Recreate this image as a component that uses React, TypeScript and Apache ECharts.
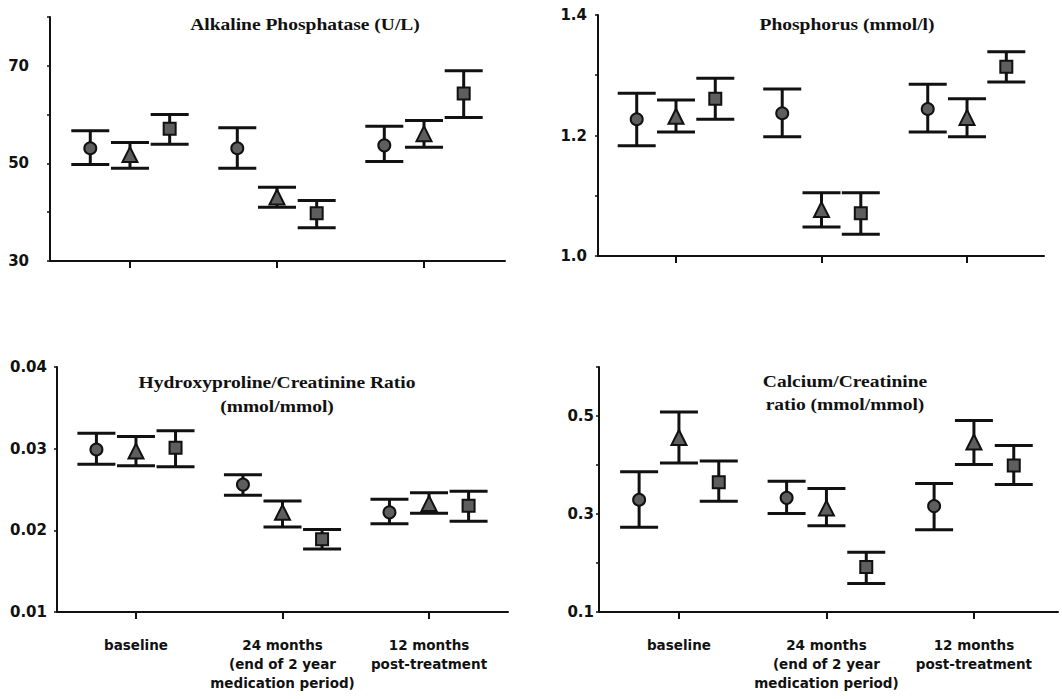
import React, { useEffect, useRef } from "react";
import * as echarts from "echarts";

// Time points (x categories)
const timepoints = [
  "baseline",
  "24 months\n(end of 2 year\nmedication period)",
  "12 months\npost-treatment",
];

// Groups: circle, triangle, square markers
const groupSymbols = ["circle", "triangle", "rect"];
const groupSymbolSizes = [12, 15, 12];
const groupOffsets = [-0.27, 0, 0.27];

// Alkaline Phosphatase (U/L): rows = time point, cols = group
const alpMean = [
  [53.1, 51.8, 57.1],
  [53.1, 43.1, 39.8],
  [53.7, 56.1, 64.3],
];
const alpLow = [
  [49.8, 49.0, 53.9],
  [49.0, 41.0, 36.8],
  [50.4, 53.3, 59.4],
];
const alpHigh = [
  [56.7, 54.3, 60.0],
  [57.3, 45.1, 42.4],
  [57.6, 58.8, 69.0],
];

// Phosphorus (mmol/l)
const phosMean = [
  [1.227, 1.232, 1.261],
  [1.237, 1.077, 1.071],
  [1.244, 1.23, 1.314],
];
const phosLow = [
  [1.183, 1.206, 1.227],
  [1.198, 1.048, 1.036],
  [1.206, 1.198, 1.289],
];
const phosHigh = [
  [1.27, 1.259, 1.295],
  [1.277, 1.105, 1.105],
  [1.285, 1.261, 1.339],
];

// Hydroxyproline/Creatinine Ratio (mmol/mmol)
const hypMean = [
  [0.0299, 0.0297, 0.0301],
  [0.0256, 0.0222, 0.0189],
  [0.0222, 0.0233, 0.023],
];
const hypLow = [
  [0.0281, 0.0279, 0.0278],
  [0.0243, 0.0204, 0.0177],
  [0.0208, 0.0221, 0.0211],
];
const hypHigh = [
  [0.0319, 0.0315, 0.0322],
  [0.0268, 0.0236, 0.0201],
  [0.0238, 0.0246, 0.0248],
];

// Calcium/Creatinine ratio (mmol/mmol)
const caMean = [
  [0.329, 0.456, 0.365],
  [0.333, 0.312, 0.192],
  [0.316, 0.447, 0.399],
];
const caLow = [
  [0.273, 0.404, 0.326],
  [0.301, 0.276, 0.158],
  [0.268, 0.401, 0.36],
];
const caHigh = [
  [0.386, 0.508, 0.408],
  [0.367, 0.352, 0.222],
  [0.362, 0.491, 0.44],
];

// Y axis tick labels
const alpTicks = [30, 50, 70];
const phosTicks = [1.0, 1.2, 1.4];
const hypTicks = [0.01, 0.02, 0.03, 0.04];
const caTicks = [0.1, 0.3, 0.5];

const INK = "#111";

const panels = [
  {
    title: ["Alkaline Phosphatase (U/L)"],
    titleX: 305,
    titleY: [25],
    mean: alpMean,
    low: alpLow,
    high: alpHigh,
    grid: { left: 50, top: 17, width: 455, height: 244 },
    xMin: 0.456,
    xMax: 3.551,
    yMin: 30,
    yMax: 80,
    yInterval: 10,
    yTicks: alpTicks,
    yDigits: 0,
    yMargin: 21,
    showX: false,
  },
  {
    title: ["Phosphorus (mmol/l)"],
    titleX: 847,
    titleY: [25],
    mean: phosMean,
    low: phosLow,
    high: phosHigh,
    grid: { left: 598, top: 15, width: 446, height: 241 },
    xMin: 0.464,
    xMax: 3.529,
    yMin: 1.0,
    yMax: 1.4,
    yInterval: 0.1,
    yTicks: phosTicks,
    yDigits: 1,
    yMargin: 11,
    showX: false,
  },
  {
    title: ["Hydroxyproline/Creatinine Ratio", "(mmol/mmol)"],
    titleX: 277,
    titleY: [383, 407],
    mean: hypMean,
    low: hypLow,
    high: hypHigh,
    grid: { left: 57, top: 367, width: 451, height: 245 },
    xMin: 0.461,
    xMax: 3.539,
    yMin: 0.01,
    yMax: 0.04,
    yInterval: 0.01,
    yTicks: hypTicks,
    yDigits: 2,
    yMargin: 10,
    showX: true,
  },
  {
    title: ["Calcium/Creatinine", "ratio (mmol/mmol)"],
    titleX: 845,
    titleY: [382, 405],
    mean: caMean,
    low: caLow,
    high: caHigh,
    grid: { left: 599, top: 367, width: 459, height: 245 },
    xMin: 0.458,
    xMax: 3.57,
    yMin: 0.1,
    yMax: 0.6,
    yInterval: 0.1,
    yTicks: caTicks,
    yDigits: 1,
    yMargin: 5,
    showX: true,
  },
];

function buildOption() {
  const grid: any[] = [];
  const xAxis: any[] = [];
  const yAxis: any[] = [];
  const series: any[] = [];
  const graphic: any[] = [];

  panels.forEach((p, i) => {
    grid.push({ ...p.grid, outerBoundsMode: "none", containLabel: false });
    xAxis.push({
      type: "value",
      gridIndex: i,
      min: p.xMin,
      max: p.xMax,
      splitLine: { show: false },
      axisLine: { show: true, lineStyle: { color: INK, width: 2 } },
      axisTick: {
        show: true,
        customValues: [1, 2, 3],
        length: 7,
        lineStyle: { color: INK, width: 2 },
      },
      axisLabel: p.showX
        ? {
            show: true,
            customValues: [1, 2, 3],
            formatter: (v: number) => timepoints[Math.round(v) - 1] ?? "",
            fontFamily: "DejaVu Sans",
            fontWeight: "bold",
            fontSize: 13.5,
            lineHeight: 19,
            color: INK,
            margin: 23,
            align: "center",
            verticalAlign: "top",
          }
        : { show: false },
    });
    yAxis.push({
      type: "value",
      gridIndex: i,
      min: p.yMin,
      max: p.yMax,
      interval: p.yInterval,
      splitLine: { show: false },
      axisLine: { show: true, lineStyle: { color: INK, width: 2 } },
      axisTick: { show: true, length: 3, lineStyle: { color: INK, width: 1.5 } },
      axisLabel: {
        show: true,
        customValues: p.yTicks,
        formatter: (v: number) => v.toFixed(p.yDigits),
        fontFamily: "DejaVu Sans",
        fontWeight: "bold",
        fontSize: 15,
        color: INK,
        margin: p.yMargin,
      },
    });

    const errData: number[][] = [];
    p.mean.forEach((row, t) => {
      row.forEach((_, g) => {
        errData.push([t + 1 + groupOffsets[g], p.low[t][g], p.high[t][g]]);
      });
    });
    series.push({
      type: "custom",
      xAxisIndex: i,
      yAxisIndex: i,
      data: errData,
      encode: { x: 0, y: [1, 2] },
      z: 2,
      renderItem: (_params: any, api: any) => {
        const x = api.value(0);
        const lo = api.coord([x, api.value(1)]);
        const hi = api.coord([x, api.value(2)]);
        const hw = 19;
        const st = { stroke: INK, lineWidth: 3 };
        return {
          type: "group",
          children: [
            { type: "line", shape: { x1: lo[0], y1: lo[1], x2: hi[0], y2: hi[1] }, style: st },
            { type: "line", shape: { x1: hi[0] - hw, y1: hi[1], x2: hi[0] + hw, y2: hi[1] }, style: st },
            { type: "line", shape: { x1: lo[0] - hw, y1: lo[1], x2: lo[0] + hw, y2: lo[1] }, style: st },
          ],
        };
      },
    });

    groupSymbols.forEach((sym, g) => {
      series.push({
        type: "scatter",
        xAxisIndex: i,
        yAxisIndex: i,
        symbol: sym,
        symbolSize: groupSymbolSizes[g],
        z: 5,
        itemStyle: { color: "#5e5e5e", borderColor: INK, borderWidth: 2, opacity: 1 },
        data: p.mean.map((row, t) => [t + 1 + groupOffsets[g], row[g]]),
      });
    });

    p.title.forEach((line, k) => {
      graphic.push({
        type: "text",
        x: p.titleX,
        y: p.titleY[k],
        scaleX: 1.22,
        style: {
          text: line,
          fontFamily: "Liberation Serif",
          fontWeight: "bold",
          fontSize: 16,
          fill: INK,
          textAlign: "center",
          textVerticalAlign: "middle",
        },
      });
    });
  });

  return {
    animation: false,
    backgroundColor: "#fff",
    grid,
    xAxis,
    yAxis,
    series,
    graphic,
  };
}

export default function App() {
  const ref = useRef<HTMLDivElement>(null);
  useEffect(() => {
    if (!ref.current) return;
    const chart = echarts.init(ref.current, null, { renderer: "svg" });
    chart.setOption(buildOption() as any);
    return () => chart.dispose();
  }, []);
  return (
    <div
      ref={ref}
      style={{ position: "fixed", left: 0, top: 0, width: 1062, height: 699, background: "#fff" }}
    />
  );
}
